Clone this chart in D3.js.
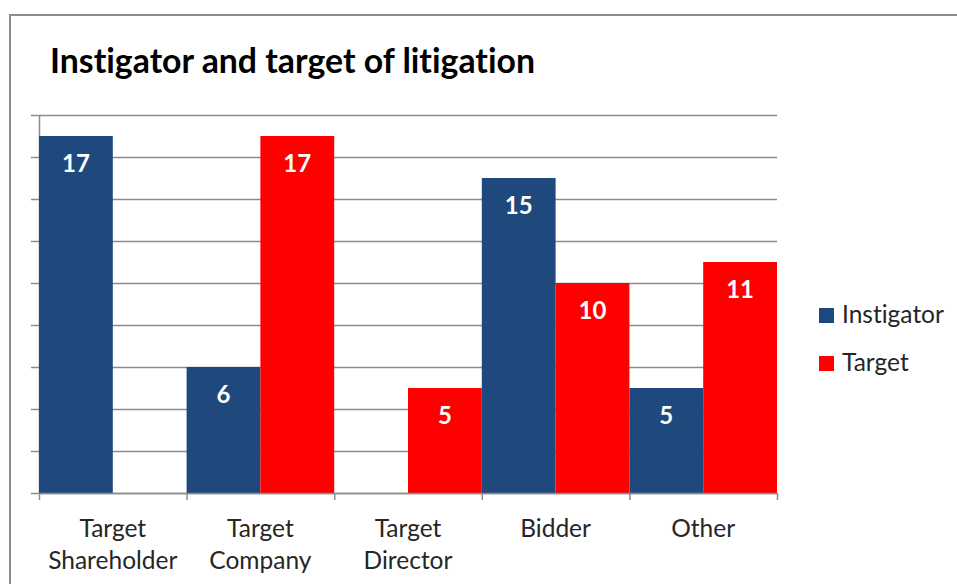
<!DOCTYPE html>
<html><head><meta charset="utf-8">
<script src="https://cdn.jsdelivr.net/npm/d3@7"></script>
<style>html,body{margin:0;padding:0;background:#fff;}svg{display:block;}text{font-variant-ligatures:none;font-feature-settings:"liga" 0,"clig" 0;}</style>
</head><body>
<svg id="chart" width="957" height="584"></svg>
<script>
const categories = [["Target","Shareholder"],["Target","Company"],["Target","Director"],["Bidder"],["Other"]];
const seriesNames = ["Instigator","Target"];
const instigatorValues = [17, 6, 0, 15, 5];
const targetValues = [0, 17, 5, 10, 11];
const yTicks = [0,2,4,6,8,10,12,14,16,18];
const colors = ["#1F497D","#FF0000"];
const titleText = "Instigator and target of litigation";

(function(){
const svg = d3.select("#chart");
const FONT = "Lato, 'Open Sans', sans-serif";
const pLeft = 39, pRight = 777, pTop = 115, pBottom = 493;

// outer border
svg.append("rect").attr("x",10).attr("y",15).attr("width",1000).attr("height",1000)
  .attr("fill","#fff").attr("stroke","#8c8c8c").attr("stroke-width",2);

// title
const title = svg.append("text").attr("x",50).attr("y",73)
  .attr("font-family",FONT).attr("font-weight","bold").attr("font-size",35)
  .attr("fill","#000").text(titleText);
title.attr("textLength",485).attr("lengthAdjust","spacingAndGlyphs");

const catKeys = categories.map((c,i)=>i);
const x0 = d3.scaleBand().domain(catKeys).range([pLeft,pRight]).padding(0);
const x1 = d3.scaleBand().domain(seriesNames).range([0,x0.bandwidth()]).padding(0);
const y = d3.scaleLinear().domain([0,18]).range([pBottom,pTop]);

// gridlines
svg.append("g").attr("transform",`translate(${pLeft},0)`)
  .call(d3.axisLeft(y).tickValues(yTicks).tickSize(-(pRight-pLeft)).tickFormat(""))
  .call(g=>g.select(".domain").remove())
  .call(g=>g.selectAll("line").attr("stroke","#8c8c8c").attr("stroke-width",1.5));

// y axis
svg.append("g").attr("transform",`translate(${pLeft},0)`)
  .call(d3.axisLeft(y).tickValues(yTicks).tickSize(8).tickSizeOuter(0).tickFormat(""))
  .call(g=>g.selectAll("line,path").attr("stroke","#8c8c8c").attr("stroke-width",1.5));

const data = catKeys.map(i=>({cat:i, vals:[instigatorValues[i], targetValues[i]]}));

const groups = svg.append("g").selectAll("g").data(data).join("g")
  .attr("transform",d=>`translate(${x0(d.cat)},0)`);

groups.selectAll("rect").data(d=>d.vals.map((v,k)=>({k,v}))).join("rect")
  .attr("x",d=>x1(seriesNames[d.k]))
  .attr("width",x1.bandwidth())
  .attr("y",d=>y(d.v))
  .attr("height",d=>y(0)-y(d.v))
  .attr("fill",d=>colors[d.k]);

groups.selectAll("text").data(d=>d.vals.map((v,k)=>({k,v})).filter(e=>e.v>0)).join("text")
  .attr("x",d=>x1(seriesNames[d.k])+x1.bandwidth()/2)
  .attr("y",d=>y(d.v)+36)
  .attr("text-anchor","middle")
  .attr("font-family",FONT).attr("font-weight","bold").attr("font-size",24)
  .attr("fill","#fff").text(d=>d.v);

// x axis
const xb = d3.scaleLinear().domain([0,categories.length]).range([pLeft,pRight]);
svg.append("g").attr("transform",`translate(0,${pBottom})`)
  .call(d3.axisBottom(xb).tickValues(d3.range(categories.length+1)).tickSize(7).tickSizeOuter(0).tickFormat(""))
  .call(g=>g.selectAll("line,path").attr("stroke","#8c8c8c").attr("stroke-width",1.5));

const xl = svg.append("g").selectAll("text").data(categories).join("text")
  .attr("x",(d,i)=>x0(i)+x0.bandwidth()/2)
  .attr("y",537)
  .attr("text-anchor","middle")
  .attr("font-family",FONT).attr("font-size",24.5).attr("fill","#262626");
xl.selectAll("tspan").data(d=>d).join("tspan")
  .attr("x",function(){return this.parentNode.getAttribute("x");})
  .attr("dy",(d,j)=>j===0?0:32).text(d=>d);

// legend
const leg = svg.append("g").selectAll("g").data(seriesNames).join("g")
  .attr("transform",(d,i)=>`translate(819,${308+i*48})`);
leg.append("rect").attr("width",15).attr("height",15).attr("fill",(d,i)=>colors[i]);
leg.append("text").attr("x",23).attr("y",15)
  .attr("font-family",FONT).attr("font-size",24.5).attr("fill","#262626").text(d=>d);
})();
</script>
</body></html>
